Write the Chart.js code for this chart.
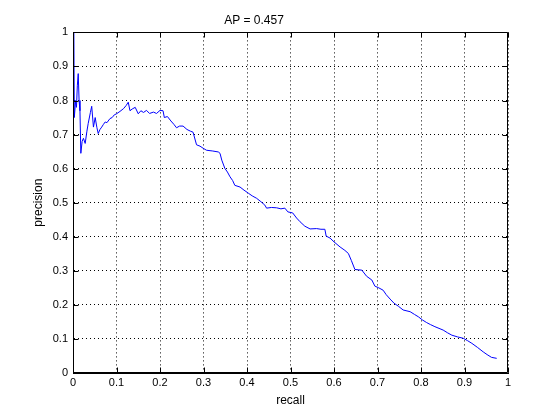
<!DOCTYPE html>
<html>
<head>
<meta charset="utf-8">
<script src="https://cdn.jsdelivr.net/npm/chart.js@4"></script>
<style>
html,body{margin:0;padding:0;background:#fff;}
#wrap{width:560px;height:420px;position:relative;}
</style>
</head>
<body>
<div id="wrap"><canvas id="c" width="560" height="420"></canvas></div>
<script>
const titleText = 'AP = 0.457';
const xLabel = 'recall';
const yLabel = 'precision';
const tickValues = [0,0.1,0.2,0.3,0.4,0.5,0.6,0.7,0.8,0.9,1];

const recall = [0.002,0.003,0.006,0.008,0.010,0.012,0.014,0.016,0.018,0.021,0.024,0.028,0.032,0.035,0.040,0.043,0.047,0.051,0.055,0.058,0.062,0.066,0.070,0.074,0.078,0.085,0.090,0.095,0.100,0.108,0.116,0.122,0.127,0.131,0.136,0.143,0.150,0.156,0.162,0.169,0.176,0.185,0.192,0.200,0.207,0.210,0.217,0.225,0.232,0.238,0.245,0.253,0.262,0.270,0.276,0.284,0.292,0.299,0.307,0.320,0.334,0.338,0.342,0.349,0.355,0.361,0.367,0.372,0.384,0.393,0.403,0.412,0.422,0.432,0.441,0.445,0.456,0.468,0.478,0.487,0.494,0.505,0.514,0.522,0.533,0.545,0.560,0.570,0.579,0.582,0.591,0.600,0.614,0.625,0.633,0.640,0.648,0.656,0.664,0.675,0.687,0.694,0.703,0.713,0.720,0.729,0.738,0.748,0.759,0.775,0.785,0.794,0.803,0.813,0.822,0.832,0.851,0.861,0.871,0.884,0.897,0.907,0.917,0.930,0.943,0.952,0.962,0.974];
const precision = [1.0,0.75,0.80,0.78,0.845,0.879,0.80,0.77,0.645,0.68,0.689,0.674,0.71,0.733,0.765,0.783,0.722,0.75,0.72,0.703,0.715,0.722,0.73,0.737,0.735,0.747,0.75,0.758,0.761,0.768,0.776,0.785,0.795,0.77,0.775,0.78,0.761,0.77,0.765,0.771,0.762,0.766,0.762,0.771,0.77,0.75,0.753,0.74,0.73,0.72,0.725,0.725,0.715,0.71,0.707,0.67,0.666,0.66,0.654,0.652,0.649,0.645,0.625,0.601,0.59,0.576,0.565,0.551,0.546,0.537,0.528,0.52,0.513,0.503,0.493,0.484,0.486,0.485,0.482,0.484,0.473,0.47,0.455,0.444,0.431,0.423,0.424,0.422,0.422,0.402,0.396,0.385,0.370,0.36,0.351,0.33,0.304,0.303,0.302,0.284,0.273,0.255,0.25,0.243,0.23,0.217,0.205,0.196,0.185,0.180,0.172,0.165,0.156,0.148,0.142,0.136,0.126,0.118,0.111,0.106,0.102,0.095,0.087,0.075,0.062,0.054,0.046,0.043];

const points = recall.map((r,i)=>({x:r,y:precision[i]}));
const FONT = '"Liberation Sans", Arial, Helvetica, sans-serif';

const boxPlugin = {
  id: 'box',
  afterDraw(chart){
    const {ctx, chartArea:a, scales:{x,y}} = chart;
    ctx.save();
    ctx.strokeStyle = '#000';
    ctx.lineWidth = 1;
    ctx.beginPath();
    const L = Math.round(a.left)+0.5, R = Math.round(a.right)-0.5, T = Math.round(a.top)+0.5, B = Math.round(a.bottom)-0.5;
    ctx.rect(L, T, R-L, B-T);
    const tl = 5;
    tickValues.forEach(v=>{
      const px = Math.round(x.getPixelForValue(v))+0.5;
      ctx.moveTo(px,B); ctx.lineTo(px,B-tl);
      ctx.moveTo(px,T); ctx.lineTo(px,T+tl);
      const py = Math.round(y.getPixelForValue(v))+0.5;
      ctx.moveTo(L,py); ctx.lineTo(L+tl,py);
      ctx.moveTo(R,py); ctx.lineTo(R-tl,py);
    });
    ctx.stroke();
    ctx.restore();
  }
};

new Chart(document.getElementById('c'), {
  type: 'scatter',
  data: {
    datasets: [{
      data: points,
      showLine: true,
      borderColor: '#0000ff',
      borderWidth: 1,
      pointRadius: 0,
      pointHoverRadius: 0,
      tension: 0,
      fill: false
    }]
  },
  options: {
    responsive: false,
    animation: false,
    devicePixelRatio: 1,
    layout: { padding: { left: 0, right: 52, top: 0, bottom: 0 } },
    plugins: {
      legend: { display: false },
      tooltip: { enabled: false },
      title: {
        display: true,
        text: titleText,
        color: '#000',
        font: { family: FONT, size: 12, weight: 'normal', lineHeight: 1.2 },
        padding: { top: 13, bottom: 5 }
      }
    },
    scales: {
      x: {
        type: 'linear',
        min: 0, max: 1,
        afterFit(s){ s.height = 47; },
        afterBuildTicks(s){ s.ticks = tickValues.map(v=>({value:v})); },
        ticks: {
          color: '#000',
          font: { family: FONT, size: 11 },
          padding: 3,
          maxRotation: 0,
          callback: v => String(v)
        },
        grid: { color: '#000', lineWidth: 1, drawTicks: false },
        border: { display: true, color: '#000', width: 1, dash: [1,3] },
        title: {
          display: true,
          text: xLabel,
          color: '#000',
          font: { family: FONT, size: 12 },
          padding: { top: 0, bottom: 12 }
        }
      },
      y: {
        type: 'linear',
        min: 0, max: 1,
        afterFit(s){ s.width = 73; },
        afterBuildTicks(s){ s.ticks = tickValues.map(v=>({value:v})); },
        ticks: {
          color: '#000',
          font: { family: FONT, size: 11 },
          padding: 5,
          callback: v => String(v)
        },
        grid: { color: '#000', lineWidth: 1, drawTicks: false },
        border: { display: true, color: '#000', width: 1, dash: [1,3] },
        title: {
          display: true,
          text: yLabel,
          color: '#000',
          font: { family: FONT, size: 12 },
          padding: { top: 31, bottom: 0 }
        }
      }
    }
  },
  plugins: [boxPlugin]
});
</script>
</body>
</html>
